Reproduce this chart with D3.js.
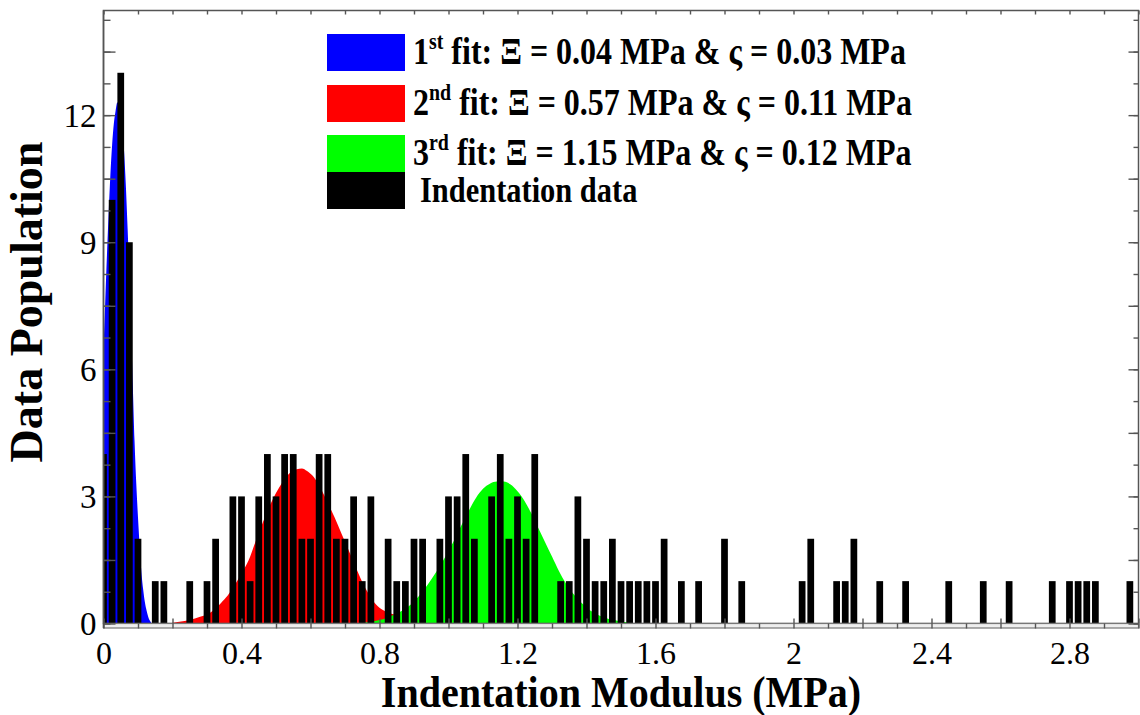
<!DOCTYPE html>
<html>
<head>
<meta charset="utf-8">
<script src="https://cdn.jsdelivr.net/npm/d3@7"></script>
<style>
  body { margin: 0; background: #fff; }
  svg { display: block; }
  .tick text { font-family: "Liberation Serif", "Times New Roman", serif; fill: #000; }
</style>
</head>
<body>
<svg id="svg" width="1140" height="715"></svg>
<script>
// histogram of indentation data: bin centres (MPa) and counts
var binX = [0, 0.025, 0.05, 0.075, 0.1, 0.15, 0.175, 0.25, 0.3, 0.325,
  0.375, 0.4, 0.425, 0.45, 0.475, 0.5, 0.525, 0.55, 0.575, 0.6,
  0.625, 0.65, 0.675, 0.7, 0.725, 0.75, 0.775, 0.825, 0.85, 0.875,
  0.9, 0.925, 0.975, 1.0, 1.025, 1.05, 1.075, 1.125, 1.15, 1.175,
  1.2, 1.225, 1.25, 1.325, 1.35, 1.375, 1.4, 1.425, 1.45, 1.475,
  1.5, 1.525, 1.55, 1.575, 1.6, 1.625, 1.675, 1.725, 1.8, 1.85,
  2.025, 2.05, 2.125, 2.15, 2.175, 2.25, 2.325, 2.45, 2.55, 2.625,
  2.75, 2.8, 2.825, 2.85, 2.875, 2.975];
var binCount = [4, 10, 13, 9, 2, 1, 1, 1, 1, 2,
  3, 3, 1, 3, 4, 3, 4, 4, 2, 2,
  4, 4, 2, 2, 3, 1, 3, 2, 1, 1,
  2, 2, 2, 3, 3, 4, 2, 3, 4, 2,
  3, 2, 4, 1, 1, 3, 2, 1, 1, 2,
  1, 1, 1, 1, 1, 2, 1, 1, 2, 1,
  1, 2, 1, 1, 2, 1, 1, 1, 1, 1,
  1, 1, 1, 1, 1, 1];

// fitted curves
var blueX = [0, 0.005, 0.01, 0.015, 0.02, 0.025, 0.03, 0.035, 0.04, 0.045, 0.05, 0.055, 0.06, 0.065,
  0.07, 0.075, 0.08, 0.085, 0.09, 0.095, 0.1, 0.105, 0.11, 0.115, 0.12, 0.125, 0.13, 0.135, 0.14];
var blueY = [6.5, 7.6, 8.7, 9.7, 10.6, 11.3, 11.8, 12.1, 12.3, 12.3, 12.1, 11.7, 11.1, 10.3,
  9.3, 8.2, 7.0, 5.6, 4.3, 3.3, 2.5, 1.8, 1.2, 0.8, 0.5, 0.3, 0.15, 0.06, 0];
var redX = [0.2, 0.22, 0.25, 0.28, 0.3, 0.32, 0.34, 0.36, 0.38, 0.4, 0.42, 0.44, 0.46, 0.48, 0.5,
  0.52, 0.54, 0.56, 0.575, 0.59, 0.61, 0.63, 0.65, 0.67, 0.69, 0.71, 0.73, 0.75, 0.77, 0.79,
  0.81, 0.83, 0.85, 0.87, 0.89, 0.91, 0.93, 0.95];
var redY = [0.02, 0.04, 0.08, 0.16, 0.22, 0.32, 0.48, 0.66, 0.9, 1.18, 1.48, 1.92, 2.35, 2.75, 3.08,
  3.35, 3.55, 3.64, 3.66, 3.6, 3.45, 3.18, 2.85, 2.5, 2.12, 1.74, 1.35, 0.98, 0.68, 0.45,
  0.32, 0.24, 0.2, 0.17, 0.12, 0.06, 0.02, 0];
var greenX = [0.75, 0.78, 0.8, 0.82, 0.84, 0.86, 0.88, 0.9, 0.92, 0.94, 0.96, 0.98, 1.0, 1.02,
  1.04, 1.06, 1.08, 1.1, 1.12, 1.14, 1.16, 1.18, 1.2, 1.22, 1.24, 1.26, 1.28, 1.3, 1.32, 1.34,
  1.36, 1.38, 1.4, 1.42, 1.44, 1.46, 1.48, 1.5, 1.52, 1.55];
var greenY = [0.02, 0.05, 0.08, 0.13, 0.2, 0.28, 0.38, 0.52, 0.7, 0.92, 1.16, 1.42, 1.72, 2.02,
  2.36, 2.68, 2.97, 3.18, 3.3, 3.35, 3.35, 3.28, 3.12, 2.9, 2.6, 2.26, 1.92, 1.58, 1.24, 0.95,
  0.72, 0.53, 0.38, 0.26, 0.18, 0.12, 0.08, 0.05, 0.03, 0];

var xLabelVals = [0, 0.4, 0.8, 1.2, 1.6, 2, 2.4, 2.8];
var yLabelVals = [0, 3, 6, 9, 12];

var legendNum = ["1", "2", "3"];
var legendSup = ["st", "nd", "rd"];
var legendRest = [" fit: \u039E = 0.04 MPa & \u03C2 = 0.03 MPa",
  " fit: \u039E = 0.57 MPa & \u03C2 = 0.11 MPa",
  " fit: \u039E = 1.15 MPa & \u03C2 = 0.12 MPa"];
var fitColors = ["#0000ff", "#ff0000", "#00ff00"];

var svg = d3.select("#svg");
var pL = 103.5, pR = 1138.5, pT = 10.5, pB = 623.5;

var x = d3.scaleLinear().domain([0, 3.0]).range([pL, pR]);
var y = d3.scaleLinear().domain([0, 14.47]).range([pB, pT]);

svg.append("clipPath").attr("id", "plotclip")
  .append("rect").attr("x", pL).attr("y", pT)
  .attr("width", pR - pL).attr("height", pB - pT);

var plot = svg.append("g").attr("clip-path", "url(#plotclip)");

// fit areas
var area = d3.area()
  .x(function(d) { return x(d[0]); })
  .y0(y(0))
  .y1(function(d) { return y(d[1]); })
  .curve(d3.curveMonotoneX);

[[blueX, blueY], [redX, redY], [greenX, greenY]].forEach(function(s, i) {
  plot.append("path")
    .datum(d3.zip(s[0], s[1]))
    .attr("fill", fitColors[i])
    .attr("d", area);
});

// histogram bars
var bw = 0.0195;
plot.selectAll("rect.bar")
  .data(d3.zip(binX, binCount))
  .enter().append("rect")
  .attr("class", "bar")
  .attr("x", function(d) { return x(d[0] - bw / 2); })
  .attr("width", x(bw) - x(0))
  .attr("y", function(d) { return y(d[1]); })
  .attr("height", function(d) { return y(0) - y(d[1]); })
  .attr("fill", "#000");

// frame
svg.append("rect")
  .attr("x", pL).attr("y", pT)
  .attr("width", pR - pL).attr("height", pB - pT)
  .attr("fill", "none").attr("stroke", "#555").attr("stroke-width", 1.5);
// double line under the x axis
svg.append("rect")
  .attr("x", pL).attr("y", pB)
  .attr("width", pR - pL).attr("height", 4.5)
  .attr("fill", "#eee").attr("stroke", "#777").attr("stroke-width", 1.2);
svg.append("line")
  .attr("x1", pL).attr("x2", pL).attr("y1", pT).attr("y2", pB + 4.5)
  .attr("stroke", "#555").attr("stroke-width", 1.5);

function tickStyle(g) {
  g.select(".domain").remove();
  g.selectAll(".tick line").attr("stroke", "#555").attr("stroke-width", 1.4);
}

var xMinor = d3.range(0, 30.5, 1).map(function(v) { return v / 10; });
var xMajor = d3.range(0, 30.5, 2).map(function(v) { return v / 10; });
var yMinor = d3.range(0, 20, 1).map(function(v) { return v * 0.75; }).filter(function(v) { return v <= 14.4; });
var yMajor = d3.range(0, 10, 1).map(function(v) { return v * 1.5; }).filter(function(v) { return v <= 14.4; });

// bottom ticks
svg.append("g").attr("transform", "translate(0," + pB + ")")
  .call(d3.axisBottom(x).tickValues(xMinor).tickSize(5).tickFormat(""))
  .call(tickStyle);
svg.append("g").attr("transform", "translate(0," + pB + ")")
  .call(d3.axisBottom(x).tickValues(xMajor).tickSize(-5).tickFormat(""))
  .call(tickStyle);
// top ticks
svg.append("g").attr("transform", "translate(0," + pT + ")")
  .call(d3.axisTop(x).tickValues(xMinor).tickSize(-4).tickFormat(""))
  .call(tickStyle);
// left ticks
svg.append("g").attr("transform", "translate(" + pL + ",0)")
  .call(d3.axisLeft(y).tickValues(yMinor).tickSize(-7).tickFormat(""))
  .call(tickStyle);
svg.append("g").attr("transform", "translate(" + pL + ",0)")
  .call(d3.axisLeft(y).tickValues(yMajor).tickSize(-12).tickFormat(""))
  .call(tickStyle);
// right ticks
svg.append("g").attr("transform", "translate(" + pR + ",0)")
  .call(d3.axisRight(y).tickValues(yMinor).tickSize(-5).tickFormat(""))
  .call(tickStyle);
svg.append("g").attr("transform", "translate(" + pR + ",0)")
  .call(d3.axisRight(y).tickValues(yMajor).tickSize(-10).tickFormat(""))
  .call(tickStyle);

// tick labels
var xLab = svg.append("g").attr("transform", "translate(0," + pB + ")")
  .call(d3.axisBottom(x).tickValues(xLabelVals).tickSize(0).tickPadding(18)
    .tickFormat(function(d) { return String(d); }));
xLab.select(".domain").remove();
xLab.selectAll("text").style("font-size", "32px");

var yLab = svg.append("g").attr("transform", "translate(" + (pL - 1) + ",0)")
  .call(d3.axisLeft(y).tickValues(yLabelVals).tickSize(0).tickPadding(6)
    .tickFormat(function(d) { return String(d); }));
yLab.select(".domain").remove();
yLab.selectAll("text").style("font-size", "33px").attr("dy", "0.34em");

// axis titles
svg.append("text")
  .attr("transform", "translate(" + ((pL + pR) / 2) + ",707) scale(0.91,1)")
  .attr("text-anchor", "middle")
  .attr("font-family", "Liberation Serif, serif").attr("font-weight", "bold")
  .attr("font-size", 44)
  .text("Indentation Modulus (MPa)");

svg.append("text")
  .attr("transform", "translate(42,302) rotate(-90)")
  .attr("text-anchor", "middle")
  .attr("font-family", "Liberation Serif, serif").attr("font-weight", "bold")
  .attr("font-size", 46)
  .text("Data Population");

// legend
var legendY = [52, 103, 153, 192];
var leg = svg.append("g")
  .attr("font-family", "Liberation Serif, serif").attr("font-weight", "bold");

legendNum.forEach(function(n, i) {
  leg.append("rect")
    .attr("x", 327).attr("y", legendY[i] - 18)
    .attr("width", 78).attr("height", 37)
    .attr("fill", fitColors[i]);
  var t = leg.append("text")
    .attr("transform", "translate(413," + (legendY[i] + 12) + ") scale(0.865,1)")
    .attr("font-size", 37);
  t.append("tspan").text(n);
  t.append("tspan").attr("font-size", 23).attr("dy", -15).text(legendSup[i]);
  t.append("tspan").attr("dy", 15).text(legendRest[i]);
});
leg.append("rect")
  .attr("x", 327).attr("y", legendY[3] - 20)
  .attr("width", 78).attr("height", 37)
  .attr("fill", "#000");
leg.append("text")
  .attr("transform", "translate(420," + (legendY[3] + 10) + ") scale(0.87,1)")
  .attr("font-size", 35)
  .text("Indentation data");
</script>
</body>
</html>
